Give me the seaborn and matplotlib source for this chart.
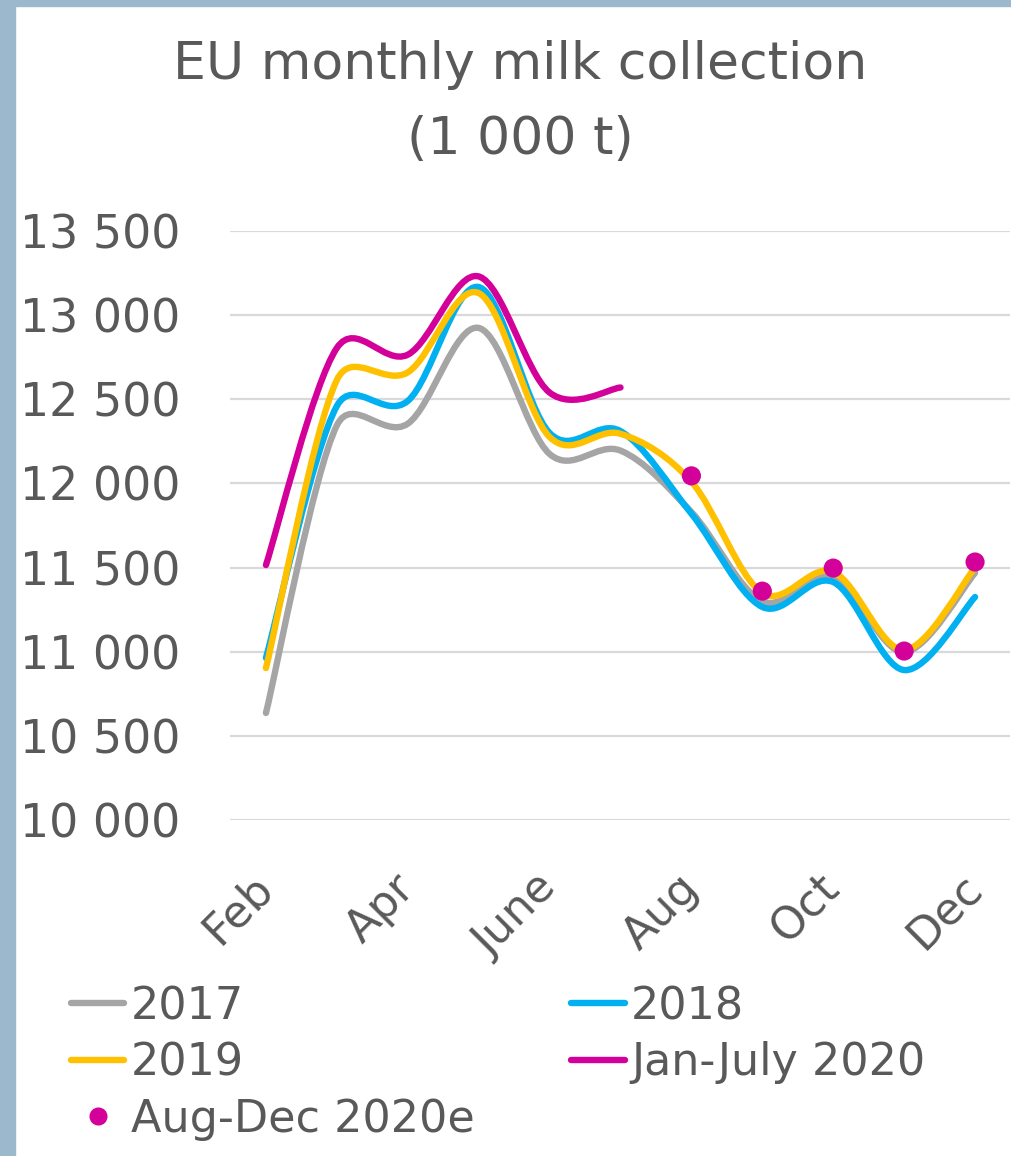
import numpy as np
import matplotlib
matplotlib.use("Agg")
import matplotlib.pyplot as plt
from matplotlib.path import Path
from matplotlib.patches import PathPatch, Rectangle
from matplotlib.lines import Line2D
import seaborn as sns

# Data (1 000 t)
months = ["Feb", "Mar", "Apr", "May", "Jun", "Jul", "Aug", "Sep", "Oct", "Nov", "Dec"]
tick_labels = ["Feb", "Apr", "June", "Aug", "Oct", "Dec"]

y2017 = [10636, 12345, 12355, 12924, 12175, 12195, 11830, 11300, 11444, 10998, 11468]
y2018 = [10963, 12460, 12490, 13167, 12300, 12311, 11820, 11266, 11414, 10891, 11325]
y2019 = [10903, 12615, 12660, 13131, 12276, 12295, 12010, 11349, 11474, 11010, 11500]
y2020 = [11515, 12805, 12765, 13230, 12540, 12570]
months_2020e = ["Aug", "Sep", "Oct", "Nov", "Dec"]
y2020e = [12045, 11360, 11497, 11004, 11533]

series = [
    ("2017", y2017, "#A5A5A5"),
    ("2018", y2018, "#00B0F0"),
    ("2019", y2019, "#FFC000"),
    ("Jan-July 2020", y2020, "#D4009A"),
]
dot_color = "#D4009A"
text_color = "#595959"


def smooth_path(ax, xs, ys):
    # Excel-like smoothed line: Bezier segments through the points, control
    # arms worked out in screen space and capped at half the segment length
    pts = ax.transData.transform(np.column_stack([xs, ys]).astype(float))
    n = len(pts)
    verts = [pts[0]]
    codes = [Path.MOVETO]

    def arm(i, toward):
        p_prev = pts[max(i - 1, 0)]
        p_next = pts[min(i + 1, n - 1)]
        a = (p_next - p_prev) / 6
        seg = np.linalg.norm(pts[toward] - pts[i])
        length = np.linalg.norm(a)
        if length > seg / 2 and length > 0:
            a = a * (seg / 2) / length
        return a

    for i in range(n - 1):
        c1 = pts[i] + arm(i, i + 1)
        c2 = pts[i + 1] - arm(i + 1, i)
        verts += [c1, c2, pts[i + 1]]
        codes += [Path.CURVE4] * 3
    verts = ax.transData.inverted().transform(np.array(verts))
    return Path(verts, codes)


sns.set_theme(style="white")
plt.rcParams["font.family"] = ["DejaVu Sans"]

fig = plt.figure(figsize=(10.12, 11.56), dpi=100)
fig.patch.set_facecolor("white")

# frame of the chart area (light blue-grey border on top and left)
fig.patches.append(Rectangle((0, 0), 15 / 1012, 1, transform=fig.transFigure,
                             color="#9BB8CD", zorder=0))
fig.patches.append(Rectangle((0, 1 - 6 / 1156), 1, 6 / 1156, transform=fig.transFigure,
                             color="#9BB8CD", zorder=0))

ax = fig.add_axes([230.5 / 1012, 1 - 820 / 1156, 780 / 1012, 589 / 1156])
ax.set_xlim(-0.5, len(months) - 0.5)
ax.set_ylim(10000, 13500)

x_idx = {m: i for i, m in enumerate(months)}
for label, vals, color in series:
    xs = [x_idx[m] for m in months[:len(vals)]]
    patch = PathPatch(smooth_path(ax, xs, vals), facecolor="none", edgecolor=color,
                      lw=4.6, capstyle="round", joinstyle="round", zorder=3)
    ax.add_patch(patch)

sns.scatterplot(x=[x_idx[m] for m in months_2020e], y=y2020e, ax=ax,
                color=dot_color, s=190, edgecolor="none", zorder=5, legend=False)

ax.set_xlim(-0.5, len(months) - 0.5)
ax.set_ylim(10000, 13500)
ax.set_yticks(np.arange(10000, 13501, 500))
ax.set_yticklabels([f"{v:,}".replace(",", " ") for v in np.arange(10000, 13501, 500)])
ax.set_xticks([x_idx[m] for m in ["Feb", "Apr", "Jun", "Aug", "Oct", "Dec"]])
ax.set_xticklabels(tick_labels, rotation=45, ha="right", va="center",
                   rotation_mode="anchor")
ax.yaxis.grid(True, color="#D9D9D9", lw=1.6)
ax.set_axisbelow(True)
for s in ax.spines.values():
    s.set_visible(False)
ax.tick_params(axis="y", length=0, pad=36, labelsize=33, labelcolor=text_color)
ax.tick_params(axis="x", length=0, pad=44, labelsize=32, labelcolor=text_color)
ax.set_xlabel("")
ax.set_ylabel("")

fig.text(520 / 1012, 1 - 65 / 1156, "EU monthly milk collection", ha="center",
         va="center", fontsize=37.5, color=text_color)
fig.text(520 / 1012, 1 - 140 / 1156, "(1 000 t)", ha="center",
         va="center", fontsize=37.5, color=text_color)

handles = [
    Line2D([], [], color="#A5A5A5", lw=4.6, solid_capstyle="round"),
    Line2D([], [], color="#FFC000", lw=4.6, solid_capstyle="round"),
    Line2D([], [], color=dot_color, lw=0, marker="o", markersize=12),
    Line2D([], [], color="#00B0F0", lw=4.6, solid_capstyle="round"),
    Line2D([], [], color="#D4009A", lw=4.6, solid_capstyle="round"),
]
labels = ["2017", "2019", "Aug-Dec 2020e", "2018", "Jan-July 2020"]
leg = fig.legend(handles, labels, ncol=2, loc="upper left",
                 bbox_to_anchor=(71 / 1012, 1 - 985 / 1156), frameon=False,
                 fontsize=32, labelcolor=text_color, handlelength=1.2,
                 handletextpad=0.15, columnspacing=2.17, labelspacing=0.3,
                 borderaxespad=0, borderpad=0)

fig.savefig("out.png", dpi=100)
